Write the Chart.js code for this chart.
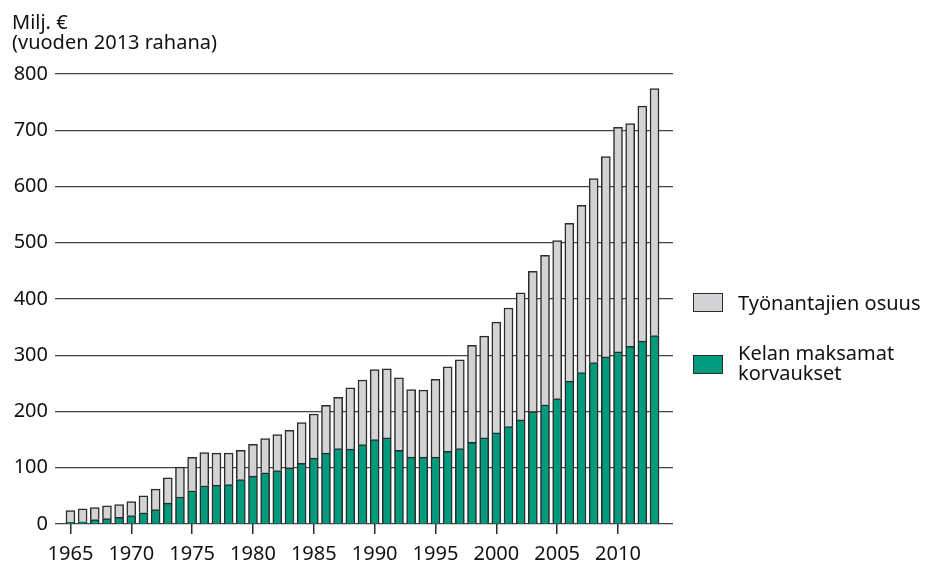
<!DOCTYPE html>
<html lang="fi">
<head>
<meta charset="utf-8">
<script src="https://cdn.jsdelivr.net/npm/chart.js@4/dist/chart.umd.min.js"></script>
<style>
  body { margin: 0; background: #fff; }
  #wrap { position: relative; width: 929px; height: 563px; font-family: "Noto Sans", sans-serif; color: #111; }
  #chart { position: absolute; left: 0; top: 0; }
  .title { position: absolute; left: 12px; top: 12px; font-size: 20px; line-height: 20px; }
  .leg { position: absolute; left: 693px; font-size: 20px; line-height: 20px; }
  .leg .box { position: absolute; left: 0; width: 28px; height: 17px; border: 1.5px solid #2b2b2b; }
  .leg .txt { position: absolute; left: 45px; white-space: nowrap; }
</style>
</head>
<body>
<div id="wrap">
  <canvas id="chart" width="929" height="563"></canvas>
  <div class="title">Milj. €<br>(vuoden 2013 rahana)</div>
  <div class="leg" style="top:293px">
    <div class="box" style="background:#d3d3d5"></div>
    <div class="txt" style="top:0">Työnantajien osuus</div>
  </div>
  <div class="leg" style="top:355px">
    <div class="box" style="background:#009b7d"></div>
    <div class="txt" style="top:-12px">Kelan maksamat<br>korvaukset</div>
  </div>
</div>
<script>
(function () {
  "use strict";

  const YEARS = [
    1965, 1966, 1967, 1968, 1969, 1970, 1971, 1972, 1973, 1974,
    1975, 1976, 1977, 1978, 1979, 1980, 1981, 1982, 1983, 1984,
    1985, 1986, 1987, 1988, 1989, 1990, 1991, 1992, 1993, 1994,
    1995, 1996, 1997, 1998, 1999, 2000, 2001, 2002, 2003, 2004,
    2005, 2006, 2007, 2008, 2009, 2010, 2011, 2012, 2013
  ];
  // Kelan maksamat korvaukset
  const KELA = [
    3, 4, 8, 9.5, 12, 15, 20, 25.5, 37, 48,
    59, 68, 69, 70, 79, 85, 91, 95, 100, 108,
    117, 126, 134, 133, 141, 150, 153, 131, 119, 119,
    119, 129, 134, 145, 153, 162, 173, 185, 200, 212,
    223, 254, 269, 287, 297, 306, 316, 325, 335
  ];
  // Työnantajien osuus
  const EMPLOYER = [
    21, 23, 21, 23, 22.5, 25, 30, 36.5, 45, 53,
    59.5, 59, 57, 56, 52, 56.5, 61, 64, 66.5, 72.5,
    78.5, 85, 91, 109, 115, 124.5, 123, 129, 120, 119,
    138, 150.5, 158, 172.5, 181, 197, 211, 226, 249, 265.5,
    281, 280.5, 297.5, 327, 356, 399, 396, 418, 439
  ];
  const X_TICKS = [1965, 1970, 1975, 1980, 1985, 1990, 1995, 2000, 2005, 2010];

  const GREEN = "#009b7d";
  const GREY = "#d3d3d5";
  const EDGE = "#2b2b2b";
  const FONT = { family: "'Noto Sans', sans-serif", size: 20 };

  function points(values) {
    return YEARS.map(function (y, i) { return { x: y, y: values[i] }; });
  }

  function barSet(label, values, color) {
    return {
      label: label,
      data: points(values),
      backgroundColor: color,
      borderColor: EDGE,
      borderWidth: 1.5,
      barThickness: 9
    };
  }

  new Chart(document.getElementById("chart"), {
    type: "bar",
    data: {
      datasets: [
        barSet("Kelan maksamat korvaukset", KELA, GREEN),
        barSet("Työnantajien osuus", EMPLOYER, GREY)
      ]
    },
    options: {
      responsive: false,
      animation: false,
      layout: { padding: { top: 74, right: 256, bottom: 0, left: 0 } },
      plugins: { legend: { display: false }, tooltip: { enabled: false } },
      scales: {
        x: {
          type: "linear",
          min: 1963.73,
          max: 2014.52,
          offset: false,
          stacked: true,
          border: { display: false },
          grid: { offset: false, drawOnChartArea: false, drawTicks: true, tickLength: 10, color: EDGE, lineWidth: 1.5 },
          ticks: { color: "#111", font: FONT, padding: 8, autoSkip: false, maxRotation: 0,
                   callback: function (v) { return String(v); } },
          afterBuildTicks: function (axis) {
            axis.ticks = X_TICKS.map(function (v) { return { value: v }; });
          },
          afterFit: function (axis) { axis.height = 39; }
        },
        y: {
          min: 0,
          max: 800,
          stacked: true,
          border: { display: false },
          grid: { drawTicks: false, color: "#444", lineWidth: 1.2 },
          ticks: { stepSize: 100, color: "#111", font: FONT, padding: 7 },
          afterFit: function (axis) { axis.width = 55; }
        }
      }
    }
  });
})();
</script>
</body>
</html>
